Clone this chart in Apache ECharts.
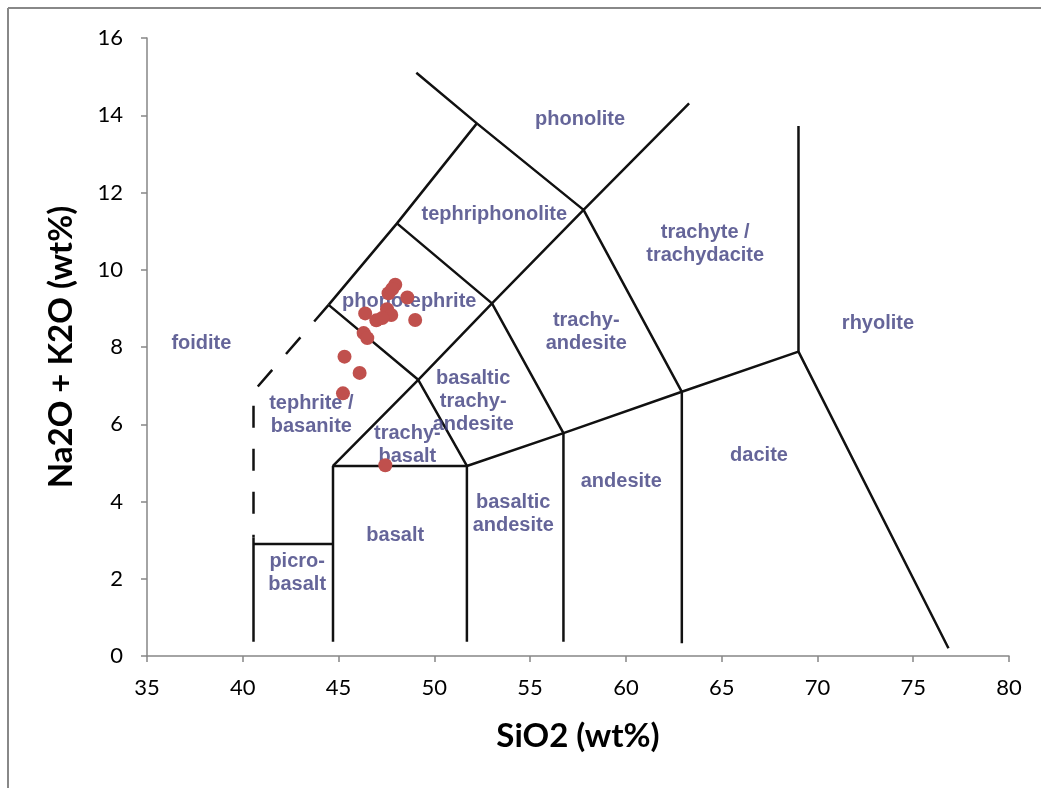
<!DOCTYPE html>
<html>
<head>
<meta charset="utf-8">
<script src="https://cdn.jsdelivr.net/npm/echarts@6/dist/echarts.min.js"></script>
<style>
  html, body { margin: 0; padding: 0; background: #fff; }
  #chart { width: 1041px; height: 788px; }
</style>
</head>
<body>
<div id="chart"></div>
<script>
// TAS diagram - sample points (SiO2, Na2O+K2O)
var samples = [
  [47.96, 9.61], [47.61, 9.39], [47.80, 9.50], [48.59, 9.28],
  [46.39, 8.87], [47.53, 8.98], [47.75, 8.83], [46.97, 8.69],
  [47.28, 8.75], [49.00, 8.70], [46.31, 8.36], [46.50, 8.23],
  [45.31, 7.75], [46.10, 7.33], [45.23, 6.80], [47.44, 4.94]
];

// field boundaries (solid)
var picroV = [[40.56, 0.37], [40.56, 3.07]];
var picroH = [[40.56, 2.90], [44.71, 2.90]];
var basaltBox = [[44.71, 0.37], [44.71, 4.92], [51.70, 4.92], [51.70, 0.37]];
var trachyBasalt = [[44.71, 4.92], [49.16, 7.15], [51.70, 4.92]];
var lowerRidge = [[51.70, 4.92], [56.74, 5.77], [62.92, 6.84], [69.01, 7.88], [76.84, 0.20]];
var andesiteV = [[56.74, 0.37], [56.74, 5.77]];
var daciteV = [[62.92, 0.33], [62.92, 6.84]];
var rhyoliteV = [[69.01, 7.88], [69.01, 13.72]];
var midRidge = [[44.48, 9.09], [49.16, 7.15], [53.01, 9.13], [56.74, 5.77]];
var leftEdge = [[44.48, 9.09], [48.05, 11.20], [52.22, 13.79], [49.06, 15.10]];
var upperRidge = [[48.05, 11.20], [53.01, 9.13], [57.79, 11.55], [62.92, 6.84]];
var topRidge = [[52.22, 13.79], [57.79, 11.55], [63.30, 14.31]];
// dashed foidite boundary
var foiditeEdge = [[44.48, 9.09], [40.56, 6.85], [40.56, 3.07]];

var boundaries = [picroV, picroH, basaltBox, trachyBasalt, lowerRidge, andesiteV,
  daciteV, rhyoliteV, midRidge, leftEdge, upperRidge, topRidge];

// field names
var fieldNames = ['phonolite', 'tephriphonolite', 'trachyte /\ntrachydacite', 'phonotephrite',
  'foidite', 'trachy-\nandesite', 'rhyolite', 'basaltic\ntrachy-\nandesite',
  'tephrite /\nbasanite', 'trachy-\nbasalt', 'dacite', 'andesite',
  'basaltic\nandesite', 'basalt', 'picro-\nbasalt'];
var fieldAt = [[57.61, 13.90], [53.13, 11.42], [64.14, 10.67], [48.69, 9.19],
  [37.84, 8.10], [57.93, 8.39], [73.16, 8.62], [52.03, 6.58],
  [43.58, 6.24], [48.59, 5.46], [66.95, 5.20], [59.76, 4.53],
  [54.12, 3.68], [47.96, 3.11], [42.84, 2.15]];

var chart = echarts.init(document.getElementById('chart'));

var series = [];
boundaries.forEach(function (b) {
  series.push({
    type: 'line', data: b, symbol: 'none', silent: true,
    lineStyle: { color: '#111', width: 2.5 }, z: 2
  });
});
series.push({
  type: 'line', data: foiditeEdge, symbol: 'none', silent: true,
  lineStyle: { color: '#111', width: 2.5, type: [22, 21] }, z: 2
});
series.push({
  type: 'scatter', symbolSize: 1, silent: true, z: 3,
  itemStyle: { color: 'rgba(0,0,0,0)' },
  data: fieldNames.map(function (n, i) { return { name: n, value: fieldAt[i] }; }),
  label: {
    show: true, position: 'inside', formatter: '{b}',
    color: '#3e3e80', fontFamily: 'Liberation Sans', fontWeight: 'bold',
    fontSize: 20, lineHeight: 23, align: 'center'
  }
});
series.push({
  type: 'scatter', data: samples, symbolSize: 14, z: 4,
  itemStyle: { color: '#c0504d', opacity: 1 }
});

var option = {
  animation: false,
  backgroundColor: '#fff',
  grid: { left: 147, right: 32, top: 38, bottom: 132 },
  graphic: [
    { type: 'line', shape: { x1: 8, y1: 8, x2: 8, y2: 788 }, style: { stroke: '#888', lineWidth: 2 } },
    { type: 'line', shape: { x1: 8, y1: 8, x2: 1041, y2: 8 }, style: { stroke: '#888', lineWidth: 2 } }
  ],
  xAxis: {
    type: 'value', min: 35, max: 80, interval: 5,
    name: 'SiO2 (wt%)', nameLocation: 'middle', nameGap: 64,
    nameTextStyle: { fontFamily: 'Lato', fontWeight: 'bold', fontSize: 33, color: '#000' },
    splitLine: { show: false },
    axisLine: { lineStyle: { color: '#868686', width: 1.5 } },
    axisTick: { show: true, length: 6, lineStyle: { color: '#868686', width: 1.5 } },
    axisLabel: { fontFamily: 'Lato', fontSize: 22, color: '#000', margin: 21 }
  },
  yAxis: {
    type: 'value', min: 0, max: 16, interval: 2,
    name: 'Na2O + K2O (wt%)', nameLocation: 'middle', nameGap: 69,
    nameTextStyle: { fontFamily: 'Lato', fontWeight: 'bold', fontSize: 33, color: '#000' },
    splitLine: { show: false },
    axisLine: { show: true, lineStyle: { color: '#868686', width: 1.5 } },
    axisTick: { show: true, length: 6, lineStyle: { color: '#868686', width: 1.5 } },
    axisLabel: { fontFamily: 'Lato', fontSize: 22, color: '#000', margin: 24 }
  },
  series: series
};
chart.setOption(option);
</script>
</body>
</html>
